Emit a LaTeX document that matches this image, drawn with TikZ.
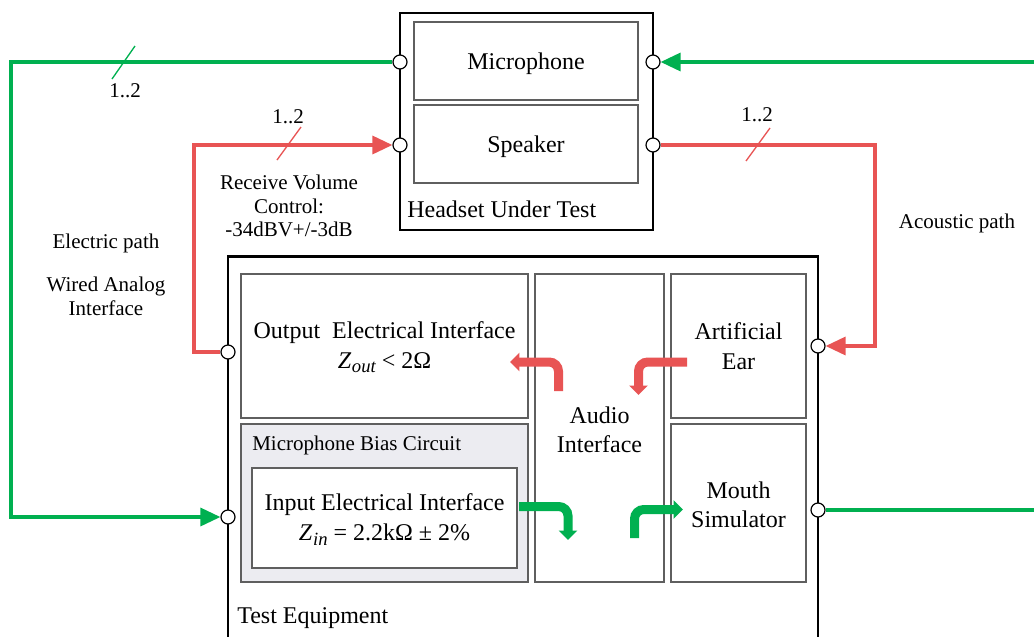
\documentclass[tikz,border=0pt]{standalone}
\usepackage{fontspec}
\setmainfont{Liberation Serif}
\usetikzlibrary{arrows.meta}
\definecolor{egreen}{RGB}{0,176,80}
\definecolor{ered}{RGB}{232,84,84}
\definecolor{boxgray}{RGB}{95,95,95}
\definecolor{biasfill}{RGB}{236,236,241}
\newcommand\Zsub[1]{\textit{Z}\kern0.5pt\raisebox{-0.45ex}{\fontsize{14}{14}\selectfont\itshape #1}}
\begin{document}
\begin{tikzpicture}[x=0.75pt,y=-0.75pt,
  big/.style={font=\fontsize{18}{22}\selectfont},
  small/.style={font=\fontsize{15.75}{17.8}\selectfont},
  outerline/.style={draw=black, line width=2.2pt},
  inbox/.style={draw=boxgray, line width=1.2pt, fill=white, inner sep=0pt, align=center, big},
  port/.style={circle, draw=black, fill=white, line width=0.9pt, minimum size=10.5pt, inner sep=0pt},
  gwire/.style={draw=egreen, line width=2.5pt},
  rwire/.style={draw=ered, line width=2.5pt},
  wtip/.style={-{Triangle[length=15pt,width=13.5pt]}},
  tickmark/.style={line width=1pt},
  lbl/.style={inner sep=0pt},
  flow/.style={line width=6.75pt, rounded corners=7pt, -{Triangle[length=7pt,width=13.5pt]}},
]
\useasboundingbox (0,0) rectangle (1034,636);

% Headset under test
\node[outerline, minimum width=189.75pt, minimum height=162.75pt, inner sep=0pt] (headset) at (526.5,121.5) {};
\node[inbox, text depth=0pt, minimum width=168pt, minimum height=58.5pt] (mic) at (526,61) {Microphone};
\node[inbox, text depth=0pt, minimum width=168pt, minimum height=58.5pt] (spk) at (526,144) {Speaker};
\node[lbl, big, anchor=west] (hlabel) at (407,209) {Headset Under Test};

% Test equipment
\draw[outerline] (228,642) -- (228,256.5) -- (818,256.5) -- (818,642);
\node[inbox, minimum width=215.25pt, minimum height=108pt] (out) at (384.5,346) {};
\node[lbl, big, align=center] (outtext) at (384.5,347.5)
  {Output\ \ Electrical Interface\\\Zsub{out} < 2Ω};
\node[inbox, fill=biasfill, minimum width=215.25pt, minimum height=118.5pt] (bias) at (384.5,503) {};
\node[lbl, small, anchor=west] (biaslabel) at (252,445) {Microphone Bias Circuit};
\node[inbox, minimum width=198.75pt, minimum height=75pt] (inp) at (384.5,518) {};
\node[lbl, big, align=center] (inptext) at (384.5,519.5)
  {Input Electrical Interface\\\Zsub{in} = 2.2kΩ ± 2\%};
\node[inbox, minimum width=96.75pt, minimum height=231pt] (audio) at (599.5,428) {};
\node[lbl, big, align=center] (audiotext) at (599.5,429.5) {Audio\\Interface};
\node[inbox, minimum width=101.25pt, minimum height=108pt] (ear) at (738.5,346) {Artificial\\Ear};
\node[inbox, minimum width=101.25pt, minimum height=118.5pt] (mouth) at (738.5,503) {};
\node[lbl, big, align=center] (mouthtext) at (738.5,505) {Mouth\\Simulator};
\node[lbl, big, anchor=west] (tlabel) at (237,618) {Test Equipment};

% internal flow arrows
\draw[flow, ered] (558.5,391) -- (558.5,362) -- (510,362);
\draw[flow, ered] (687,362) -- (638.5,362) -- (638.5,395);
\draw[flow, egreen] (519,506.5) -- (568,506.5) -- (568,540);
\draw[flow, egreen] (634.5,538) -- (634.5,509.5) -- (683,509.5);

% ports
\node[port] (hmL) at (400,62) {};
\node[port] (hsL) at (400,145) {};
\node[port] (hmR) at (653,62) {};
\node[port] (hsR) at (653,145) {};
\node[port] (teO) at (228,352) {};
\node[port] (teI) at (228,517) {};
\node[port] (teE) at (818,346) {};
\node[port] (teM) at (818,510) {};

% corner coordinates
\coordinate (gTL) at (11,62);
\coordinate (rTL) at (194,352);
\coordinate (rTR) at (875,145);
\coordinate (gIn) at (1036,62);
\coordinate (gOut) at (1036,510);

% wires
\draw[gwire, wtip] (hmL) -- (gTL) |- (teI);
\draw[rwire, wtip] (teO) -- (rTL) |- (hsL);
\draw[rwire, wtip] (hsR) -- (rTR) |- (teE);
\draw[gwire, wtip] (gIn) -- (hmR);
\draw[gwire] (teM) -- (gOut);

% bus ticks
\draw[egreen, tickmark] (112,79) -- (135,46);
\node[lbl, small] (n1) at (125,91) {1..2};
\draw[ered, tickmark] (277,160) -- (301,127);
\node[lbl, small] (n2) at (288,117) {1..2};
\draw[ered, tickmark] (746,161) -- (770,128);
\node[lbl, small] (n3) at (757,115) {1..2};

% labels
\node[lbl, small, align=center] (rvc) at (289,206) {Receive Volume\\Control:\\-34dBV+/-3dB};
\node[lbl, small] (ep) at (106,243) {Electric path};
\node[lbl, small, align=center] (wai) at (106,296) {Wired Analog\\Interface};
\node[lbl, small] (ap) at (957,223) {Acoustic path};
\end{tikzpicture}
\end{document}
